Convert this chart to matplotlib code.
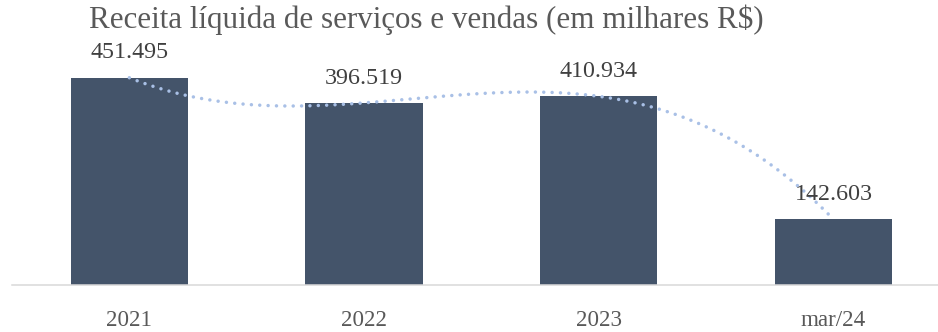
import numpy as np
import matplotlib.pyplot as plt

periodos = ["2021", "2022", "2023", "mar/24"]
receita = [451.495, 396.519, 410.934, 142.603]
rotulos = ["451.495", "396.519", "410.934", "142.603"]

titulo = "Receita líquida de serviços e vendas (em milhares R$)"

plt.rcParams['font.family'] = ['Liberation Serif', 'DejaVu Serif']

fig = plt.figure(figsize=(9.38, 3.32), dpi=100)
ax = fig.add_axes([12 / 938, 47.5 / 332, 938.7 / 938, 229 / 332])

x = np.arange(len(periodos))
ax.bar(x, receita, width=0.5, color="#44546A", zorder=2)

# linha de tendencia polinomial (ordem 3)
coef = np.polyfit(x, receita, 3)
xs = np.linspace(x[0], x[-1], 300)
ax.plot(xs, np.polyval(coef, xs), color="#A9C0E6", linewidth=2.5,
        linestyle=(0, (0.01, 2.4)), dash_capstyle="round", zorder=3)

for xi, v, txt in zip(x, receita, rotulos):
    ax.annotate(txt, (xi, v), xytext=(0, 13.9), textcoords="offset points",
                ha="center", va="baseline", fontsize=17.3, color="#404040")

ax.set_xlim(-0.5, 3.5)
ax.set_ylim(0, 500)
ax.set_xticks(x)
ax.set_xticklabels(periodos, fontsize=16.6, color="#595959")
ax.tick_params(axis="x", length=0, pad=18.4)
ax.set_yticks([])
for lado in ["top", "right", "left"]:
    ax.spines[lado].set_visible(False)
ax.spines["bottom"].set_color("#D9D9D9")
ax.spines["bottom"].set_linewidth(1.1)

fig.text(89 / 938, (332 - 28.3) / 332, titulo, ha="left", va="baseline",
         fontsize=22.3, color="#595959")

fig.savefig("out.png", dpi=100)
